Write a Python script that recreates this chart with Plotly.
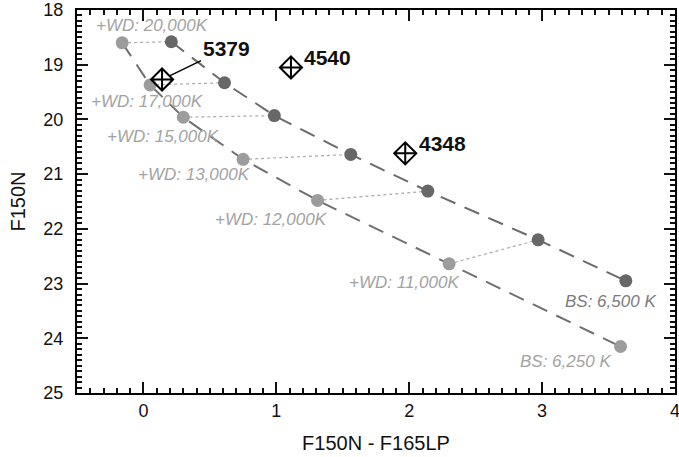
import plotly.graph_objects as go

# Blue-straggler (6,500 K) track
bs_hot_color = [0.21, 0.61, 0.985, 1.56, 2.14, 2.97, 3.63]
bs_hot_mag = [18.58, 19.33, 19.93, 20.64, 21.31, 22.20, 22.95]
# Blue-straggler (6,250 K) + WD track
bs_cool_color = [-0.16, 0.05, 0.30, 0.75, 1.31, 2.30, 3.59]
bs_cool_mag = [18.60, 19.37, 19.96, 20.73, 21.48, 22.64, 24.15]
wd_labels = ["+WD: 20,000K", "+WD: 17,000K", "+WD: 15,000K", "+WD: 13,000K",
             "+WD: 12,000K", "+WD: 11,000K"]
# Observed stars
star_ids = ["5379", "4540", "4348"]
star_color = [0.14, 1.11, 1.97]
star_mag = [19.27, 19.05, 20.62]

x_range = [-0.5, 4.0]
y_range = [25, 18]

DARK = "#676767"
LIGHT = "#9c9c9c"
FONT = "Liberation Sans, Arial, Helvetica, sans-serif"

fig = go.Figure()

# dotted connectors (WD pairs only)
cx, cy = [], []
for a, b, c, d in list(zip(bs_cool_color, bs_hot_color, bs_cool_mag, bs_hot_mag))[:len(wd_labels)]:
    cx += [a, b, None]
    cy += [c, d, None]
fig.add_trace(go.Scatter(x=cx, y=cy, mode="lines",
                         line=dict(color="#aaaaaa", width=1.2, dash="dot"),
                         hoverinfo="skip"))

fig.add_trace(go.Scatter(x=bs_cool_color, y=bs_cool_mag, mode="lines+markers",
                         line=dict(color="#707070", width=2, dash="16px,10px"),
                         marker=dict(color=LIGHT, size=13)))
fig.add_trace(go.Scatter(x=bs_hot_color, y=bs_hot_mag, mode="lines+markers",
                         line=dict(color="#6a6a6a", width=2, dash="16px,10px"),
                         marker=dict(color=DARK, size=13)))
fig.add_trace(go.Scatter(x=star_color, y=star_mag, mode="markers",
                         marker=dict(symbol="diamond-cross-open", size=17,
                                     color="black", line=dict(color="black", width=2))))

ann = []
wd_shift = [(30, 17), (-3, -17), (-20, -19), (-49, -15), (-47, -19), (-45, -19)]
LBL = 17
for i, lab in enumerate(wd_labels):
    ann.append(dict(x=bs_cool_color[i], y=bs_cool_mag[i], text="<i>" + lab + "</i>",
                    showarrow=False, xshift=wd_shift[i][0], yshift=wd_shift[i][1],
                    font=dict(family=FONT, size=LBL, color="#a3a3a3")))
ann.append(dict(x=bs_hot_color[-1], y=bs_hot_mag[-1], text="<i>BS: 6,500 K</i>", showarrow=False,
                xshift=-15, yshift=-21, font=dict(family=FONT, size=LBL, color="#7c7c7c")))
ann.append(dict(x=bs_cool_color[-1], y=bs_cool_mag[-1], text="<i>BS: 6,250 K</i>", showarrow=False,
                xshift=-55, yshift=-15, font=dict(family=FONT, size=LBL, color="#a3a3a3")))

# star labels
ann.append(dict(x=star_color[0], y=star_mag[0], text="<b>" + star_ids[0] + "</b>",
                showarrow=True, arrowhead=0, arrowwidth=1.5, arrowcolor="black",
                ax=64, ay=-31, standoff=9,
                font=dict(family=FONT, size=21, color="#111111")))
for i in (1, 2):
    ann.append(dict(x=star_color[i], y=star_mag[i], text="<b>" + star_ids[i] + "</b>",
                    showarrow=False, xshift=37, yshift=10,
                    font=dict(family=FONT, size=21, color="#111111")))
fig.update_layout(annotations=ann)

axis_common = dict(showline=True, linecolor="black", linewidth=2, mirror="allticks",
                   ticks="inside", ticklen=11, tickwidth=2, tickcolor="#111111",
                   ticklabeloverflow="allow", showgrid=False, zeroline=False,
                   minor=dict(ticks="inside", ticklen=5, tickwidth=1.5,
                              tickcolor="#111111", dtick=0.1, showgrid=False))

fig.update_xaxes(range=x_range,
                 title=dict(text="F150N - F165LP", font=dict(size=20), standoff=16),
                 **axis_common)
fig.update_yaxes(range=y_range, ticklabelstandoff=8,
                 title=dict(text="F150N", font=dict(size=20), standoff=12),
                 **axis_common)

fig.update_layout(template="none", width=679, height=457, showlegend=False,
                  font=dict(family=FONT, size=18, color="#111111"),
                  margin=dict(l=77, r=4, t=10, b=64, autoexpand=False),
                  plot_bgcolor="white", paper_bgcolor="white")

fig.write_html("out.html")
